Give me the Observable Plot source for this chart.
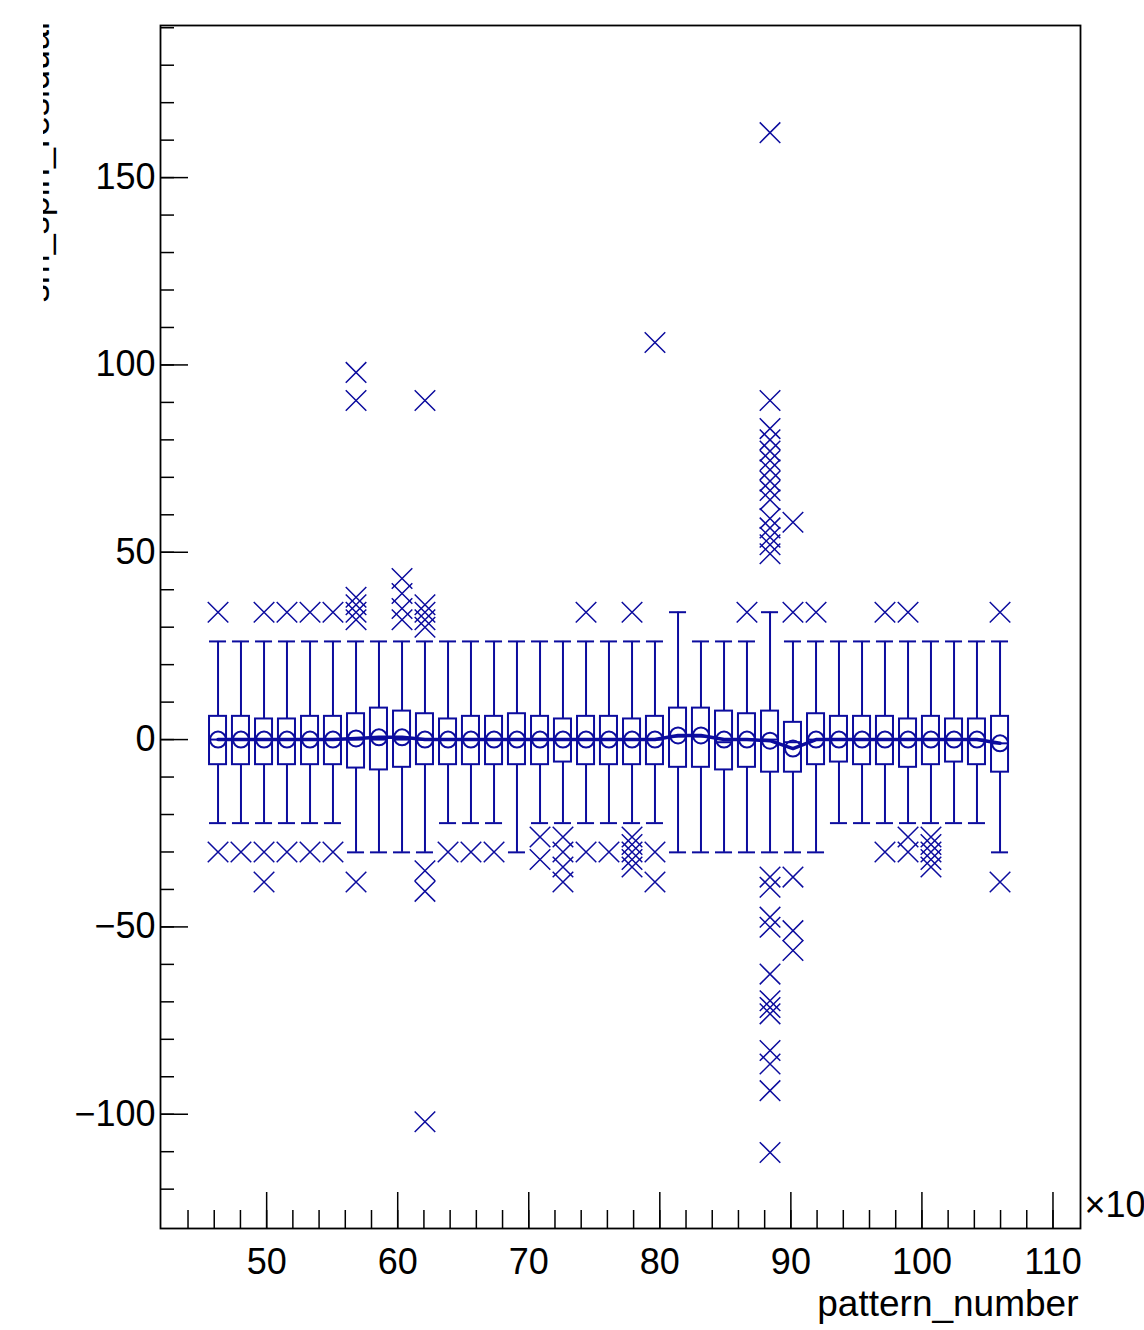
<!DOCTYPE html>
<html>
<head>
<meta charset="utf-8">
<script src="https://cdn.jsdelivr.net/npm/d3@7"></script>
<script src="https://cdn.jsdelivr.net/npm/@observablehq/plot@0.6"></script>
<style>
  html, body { margin: 0; padding: 0; background: #fff; }
  #wrap { position: relative; width: 1144px; height: 1330px; overflow: hidden; font-family: "Liberation Sans", Arial, sans-serif; }
  #ylab { position: absolute; left: 43px; top: 0; }
</style>
</head>
<body>
<div id="wrap"></div>
<script>
// ---- data (pattern_number ×10, one candle per bin) ----
const binCenters = [46.29, 48.04, 49.80, 51.55, 53.31, 55.06, 56.82, 58.57, 60.33, 62.08,
  63.84, 65.59, 67.35, 69.10, 70.86, 72.61, 74.37, 76.12, 77.88, 79.63,
  81.39, 83.14, 84.90, 86.65, 88.41, 90.16, 91.92, 93.67, 95.43, 97.18,
  98.94, 100.69, 102.45, 104.20, 105.96];
const whiskerHigh = [26.2, 26.2, 26.2, 26.2, 26.2, 26.2, 26.2, 26.2, 26.2, 26.2,
  26.2, 26.2, 26.2, 26.2, 26.2, 26.2, 26.2, 26.2, 26.2, 26.2,
  34, 26.2, 26.2, 26.2, 34, 26.2, 26.2, 26.2, 26.2, 26.2,
  26.2, 26.2, 26.2, 26.2, 26.2];
const whiskerLow = [-22.3, -22.3, -22.3, -22.3, -22.3, -22.3, -30.1, -30.1, -30.1, -30.1,
  -22.3, -22.3, -22.3, -30.1, -22.3, -22.3, -22.3, -22.3, -22.3, -22.3,
  -30.1, -30.1, -30.1, -30.1, -30.1, -30.1, -30.1, -22.3, -22.3, -22.3,
  -22.3, -22.3, -22.3, -22.3, -30.1];
const upperQuartile = [6.2, 6.2, 5.5, 5.5, 6.2, 6.2, 6.9, 8.4, 7.6, 6.9,
  5.5, 6.2, 6.2, 6.9, 6.2, 5.5, 6.2, 6.2, 5.5, 6.2,
  8.4, 8.4, 7.6, 6.9, 7.6, 4.6, 6.9, 6.2, 6.2, 6.2,
  5.5, 6.2, 5.5, 5.5, 6.2];
const lowerQuartile = [-6.7, -6.7, -6.7, -6.7, -6.7, -6.7, -7.6, -8.1, -7.4, -6.7,
  -6.7, -6.7, -6.7, -6.7, -6.7, -6.0, -6.7, -6.7, -6.7, -6.7,
  -7.4, -7.4, -8.1, -7.4, -8.7, -8.7, -6.7, -6.0, -6.7, -6.7,
  -7.4, -6.7, -6.0, -6.7, -8.7];
const medians = [0, 0, 0, 0, 0, 0, 0, 0, 0, 0,
  0, 0, 0, 0, 0, 0, 0, 0, 0, 0,
  0.8, 0.8, -0.7, 0, 0, -0.7, 0, 0, 0, 0,
  0, 0, 0, 0, -1];
const means = [0, 0, 0, 0, 0, 0, 0.3, 0.6, 0.6, 0,
  0, 0, 0, 0, 0, 0, 0, 0, 0, 0,
  1.1, 1.1, 0, 0, -0.3, -2.4, 0, 0, 0, 0,
  0, 0, 0, 0, -1];
const outliers = [
  [34, -30], [-30], [34, -30, -38], [34, -30], [34, -30], [34, -30],
  [98, 90.5, 38, 36, 34, 32, -38], [], [43, 39, 35, 32],
  [90.5, 36, 34, 32, 30, -35, -40.5, -102],
  [-30], [-30], [-30], [], [-26, -32], [-26, -30, -34, -38],
  [34, -30], [-30], [34, -26, -28, -30, -32, -34], [106, -30, -38],
  [], [], [], [34],
  [162, 90.5, 83, 80, 77, 74.5, 72, 69, 66.5, 64, 59, 56.5, 54, 52, 49.6,
   -36.7, -39.4, -47.4, -50.1, -62.6, -69.7, -71.5, -73.2, -83, -86.6, -93.7, -110.2],
  [34, 58, -36.7, -51, -56.3], [34], [], [],
  [34, -30], [34, -26, -30], [-26, -28, -30, -32, -34], [], [], [34, -38]
];
const yMajorTicks = [-100, -50, 0, 50, 100, 150];
const xMajorTicks = [50, 60, 70, 80, 90, 100, 110];
const xAxisTitle = "pattern_number";
const xExponent = "×10";
const yAxisTitle = "sm_spin_residual";

// ---- layout ----
const W = 1144, H = 1330, mL = 160, mR = 64, mT = 25, mB = 102;
const plotW = W - mL - mR, plotH = H - mT - mB;
const binWidth = 1.755;
const halfBox = 0.37 * binWidth;
const color = "#0c0c9e";
const yMinorTicks = d3.range(-120, 191, 10);
const xMinorTicks = d3.range(44, 111, 2);

const rows = binCenters.map((x, k) => ({
  x, hi: whiskerHigh[k], lo: whiskerLow[k], q3: upperQuartile[k], q1: lowerQuartile[k],
  med: medians[k], mean: means[k]
}));
const outlierRows = binCenters.flatMap((x, k) => outliers[k].map(v => ({x, v})));
const fmt = d => d < 0 ? "\u2212" + Math.abs(d) : String(d);

const chart = Plot.plot({
  width: W, height: H,
  marginLeft: mL, marginRight: mR, marginTop: mT, marginBottom: mB,
  x: {domain: [41.9, 112.1]},
  y: {domain: [-130.5, 190.6]},
  style: {fontFamily: "'Liberation Sans', Arial, sans-serif", fontSize: "36px", background: "white", color: "black", overflow: "visible"},
  marks: [
    Plot.tickY(yMinorTicks, {y: d => d, insetRight: plotW - 14, stroke: "black", strokeWidth: 1.5}),
    Plot.tickY(yMajorTicks, {y: d => d, insetRight: plotW - 28, stroke: "black", strokeWidth: 1.5}),
    Plot.tickX(xMinorTicks, {x: d => d, insetTop: plotH - 18, stroke: "black", strokeWidth: 1.5}),
    Plot.tickX(xMajorTicks, {x: d => d, insetTop: plotH - 36, stroke: "black", strokeWidth: 1.5}),
    Plot.axisY({ticks: yMajorTicks, tickSize: 0, tickPadding: 5, fontSize: 36, label: null, tickFormat: fmt}),
    Plot.axisX({ticks: xMajorTicks, tickSize: 0, tickPadding: 20, fontSize: 36, label: null, tickFormat: fmt}),
    Plot.ruleX(rows, {x: "x", y1: "q3", y2: "hi", stroke: color, strokeWidth: 2}),
    Plot.ruleX(rows, {x: "x", y1: "lo", y2: "q1", stroke: color, strokeWidth: 2}),
    Plot.ruleY(rows, {y: "hi", x1: d => d.x - halfBox, x2: d => d.x + halfBox, stroke: color, strokeWidth: 2}),
    Plot.ruleY(rows, {y: "lo", x1: d => d.x - halfBox, x2: d => d.x + halfBox, stroke: color, strokeWidth: 2}),
    Plot.rect(rows, {x1: d => d.x - halfBox, x2: d => d.x + halfBox, y1: "q1", y2: "q3", fill: "none", stroke: color, strokeWidth: 2}),
    Plot.ruleY(rows, {y: "med", x1: d => d.x - halfBox, x2: d => d.x + halfBox, stroke: color, strokeWidth: 2}),
    Plot.line(rows, {x: "x", y: "mean", stroke: color, strokeWidth: 3.5}),
    Plot.dot(rows, {x: "x", y: "mean", r: 8, stroke: color, strokeWidth: 2, fill: "none"}),
    Plot.dot(outlierRows, {x: "x", y: "v", symbol: "times", r: 9.4, stroke: color, strokeWidth: 1.5}),
    Plot.frame({stroke: "black", strokeWidth: 1.8}),
    Plot.text([xExponent], {text: d => d, frameAnchor: "bottom-right", textAnchor: "start", dx: 4, dy: -12, fontSize: 36}),
    Plot.text([xAxisTitle], {text: d => d, frameAnchor: "bottom-right", textAnchor: "end", dx: -2, dy: 87, fontSize: 37})
  ]
});
const wrap = document.getElementById("wrap");
wrap.appendChild(chart);

// y-axis title: only its right-hand sliver is visible in the original
const ns = "http://www.w3.org/2000/svg";
const ysvg = document.createElementNS(ns, "svg");
ysvg.setAttribute("id", "ylab");
ysvg.setAttribute("width", "22");
ysvg.setAttribute("height", "320");
const yt = document.createElementNS(ns, "text");
yt.setAttribute("transform", "translate(6,22) rotate(-90)");
yt.setAttribute("text-anchor", "end");
yt.setAttribute("font-size", "36");
yt.setAttribute("font-family", "'Liberation Sans', Arial, sans-serif");
yt.textContent = yAxisTitle;
ysvg.appendChild(yt);
wrap.appendChild(ysvg);
</script>
</body>
</html>
